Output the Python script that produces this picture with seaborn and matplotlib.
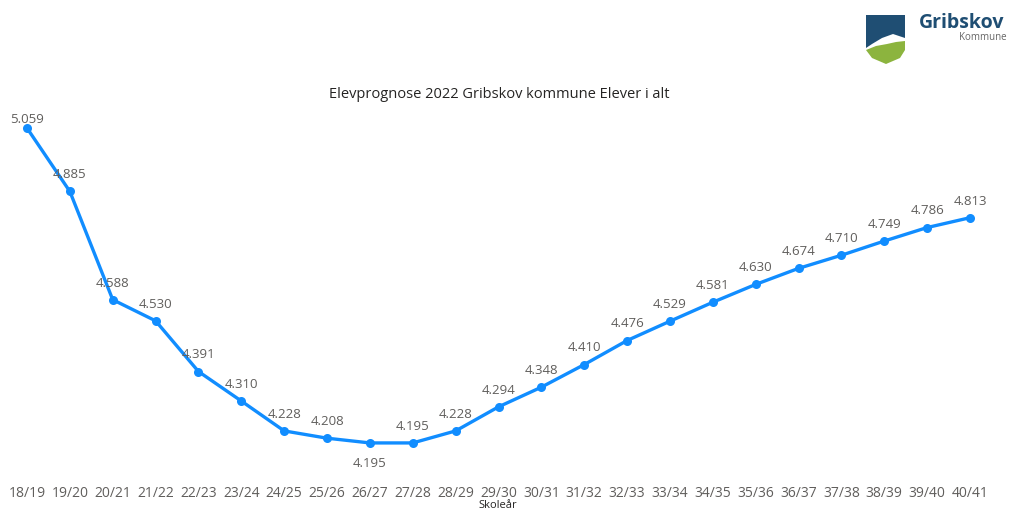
import numpy as np
import pandas as pd
from matplotlib import pyplot as plt
from matplotlib.patches import Polygon
import seaborn as sns

skoleaar = ["18/19", "19/20", "20/21", "21/22", "22/23", "23/24", "24/25", "25/26",
            "26/27", "27/28", "28/29", "29/30", "30/31", "31/32", "32/33", "33/34",
            "34/35", "35/36", "36/37", "37/38", "38/39", "39/40", "40/41"]
elever = [5059, 4885, 4588, 4530, 4391, 4310, 4228, 4208, 4195, 4195, 4228, 4294,
          4348, 4410, 4476, 4529, 4581, 4630, 4674, 4710, 4749, 4786, 4813]
# labels placed under the point for these years
under = ["26/27"]

df = pd.DataFrame({"Skoleår": skoleaar, "Elever": elever})
df["pos"] = range(len(df))

sns.set_style("white")
plt.rcParams['font.family'] = ['Open Sans', 'DejaVu Sans']

fig = plt.figure(figsize=(10.09, 5.13), dpi=100)
# axes: x 27..970 px, y 100..475 px from top
ax = fig.add_axes([27 / 1009, (513 - 475) / 513, 943 / 1009, 375 / 513])
sns.lineplot(data=df, x="pos", y="Elever", ax=ax, color="#118DFF", linewidth=2.4,
             marker="o", markersize=6.5, markeredgewidth=0, clip_on=False)

ax.set_xlim(0, len(df) - 1)
ax.set_ylim(4107, 5136)
for s in ax.spines.values():
    s.set_visible(False)
ax.set_yticks([])
ax.set_xticks(df["pos"])
ax.set_xticklabels(df["Skoleår"], fontsize=10, color="#605E5C")
ax.tick_params(axis="x", length=0, pad=8)
ax.set_xlabel("")
ax.set_ylabel("")
fig.text(498 / 1009, 1 - 506 / 513, "Skoleår", fontsize=8, color="#252423",
         ha="center", va="center")

for p, lab, v in zip(df["pos"], df["Skoleår"], df["Elever"]):
    txt = f"{v:,}".replace(",", ".")
    if lab in under:
        dy = -15
    elif p == 0:
        dy = 6
    else:
        dy = 12
    ax.annotate(txt, (p, v), xytext=(0, dy), textcoords="offset points",
                ha="center", va="center", fontsize=9.5, color="#605E5C")

fig.text(499 / 1009, 1 - 95 / 513, "Elevprognose 2022 Gribskov kommune Elever i alt",
         ha="center", va="center", fontsize=10.5, color="#252423")

# logo
def px(x, y):
    return (x / 1009, 1 - y / 513)

blue = Polygon([px(866, 15), px(905, 15), px(905, 38), px(893, 34), px(882, 38),
                px(872, 44), px(866, 48)], closed=True, transform=fig.transFigure,
               facecolor="#1F4E73", edgecolor="none")
green = Polygon([px(866, 50), px(876, 46), px(887, 44), px(896, 42), px(905, 41),
                 px(905, 50), px(900, 58), px(886, 64), px(872, 58), px(866, 50)],
                closed=True, transform=fig.transFigure, facecolor="#8CB43E",
                edgecolor="none")
fig.patches.extend([blue, green])
fig.text(919 / 1009, 1 - 23 / 513, "Gribskov", fontsize=14, fontweight="bold",
         color="#1F4E73", ha="left", va="center")
fig.text(1007 / 1009, 1 - 38 / 513, "Kommune", fontsize=7, color="#666666",
         ha="right", va="center")

plt.savefig("out.png", dpi=100)
